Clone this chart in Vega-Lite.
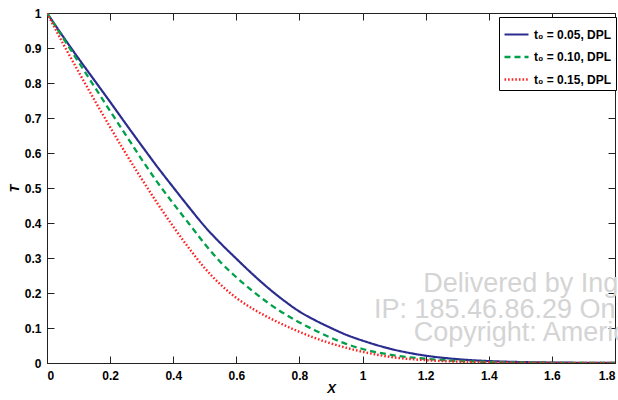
{
  "$schema": "https://vega.github.io/schema/vega-lite/v6.json",
  "width": 568,
  "height": 350,
  "autosize": "none",
  "padding": {"left": 47, "top": 13, "right": 3, "bottom": 37},
  "background": "white",
  "datasets": {
    "curves": [
      {"x": 0, "T": 1.0, "s": "t₀ = 0.05, DPL"},
      {"x": 0.05, "T": 0.934, "s": "t₀ = 0.05, DPL"},
      {"x": 0.1, "T": 0.870, "s": "t₀ = 0.05, DPL"},
      {"x": 0.15, "T": 0.808, "s": "t₀ = 0.05, DPL"},
      {"x": 0.2, "T": 0.746, "s": "t₀ = 0.05, DPL"},
      {"x": 0.25, "T": 0.683, "s": "t₀ = 0.05, DPL"},
      {"x": 0.3, "T": 0.621, "s": "t₀ = 0.05, DPL"},
      {"x": 0.35, "T": 0.560, "s": "t₀ = 0.05, DPL"},
      {"x": 0.4, "T": 0.502, "s": "t₀ = 0.05, DPL"},
      {"x": 0.45, "T": 0.445, "s": "t₀ = 0.05, DPL"},
      {"x": 0.5, "T": 0.390, "s": "t₀ = 0.05, DPL"},
      {"x": 0.55, "T": 0.342, "s": "t₀ = 0.05, DPL"},
      {"x": 0.6, "T": 0.298, "s": "t₀ = 0.05, DPL"},
      {"x": 0.65, "T": 0.255, "s": "t₀ = 0.05, DPL"},
      {"x": 0.7, "T": 0.215, "s": "t₀ = 0.05, DPL"},
      {"x": 0.75, "T": 0.179, "s": "t₀ = 0.05, DPL"},
      {"x": 0.8, "T": 0.147, "s": "t₀ = 0.05, DPL"},
      {"x": 0.85, "T": 0.122, "s": "t₀ = 0.05, DPL"},
      {"x": 0.9, "T": 0.100, "s": "t₀ = 0.05, DPL"},
      {"x": 0.95, "T": 0.080, "s": "t₀ = 0.05, DPL"},
      {"x": 1.0, "T": 0.064, "s": "t₀ = 0.05, DPL"},
      {"x": 1.1, "T": 0.038, "s": "t₀ = 0.05, DPL"},
      {"x": 1.2, "T": 0.021, "s": "t₀ = 0.05, DPL"},
      {"x": 1.3, "T": 0.011, "s": "t₀ = 0.05, DPL"},
      {"x": 1.4, "T": 0.0055, "s": "t₀ = 0.05, DPL"},
      {"x": 1.5, "T": 0.0027, "s": "t₀ = 0.05, DPL"},
      {"x": 1.6, "T": 0.0013, "s": "t₀ = 0.05, DPL"},
      {"x": 1.7, "T": 0.0006, "s": "t₀ = 0.05, DPL"},
      {"x": 1.8, "T": 0.0003, "s": "t₀ = 0.05, DPL"},
      {"x": 0, "T": 1.0, "s": "t₀ = 0.10, DPL"},
      {"x": 0.05, "T": 0.930, "s": "t₀ = 0.10, DPL"},
      {"x": 0.1, "T": 0.860, "s": "t₀ = 0.10, DPL"},
      {"x": 0.15, "T": 0.790, "s": "t₀ = 0.10, DPL"},
      {"x": 0.2, "T": 0.720, "s": "t₀ = 0.10, DPL"},
      {"x": 0.25, "T": 0.651, "s": "t₀ = 0.10, DPL"},
      {"x": 0.3, "T": 0.582, "s": "t₀ = 0.10, DPL"},
      {"x": 0.35, "T": 0.516, "s": "t₀ = 0.10, DPL"},
      {"x": 0.4, "T": 0.456, "s": "t₀ = 0.10, DPL"},
      {"x": 0.45, "T": 0.398, "s": "t₀ = 0.10, DPL"},
      {"x": 0.5, "T": 0.340, "s": "t₀ = 0.10, DPL"},
      {"x": 0.55, "T": 0.288, "s": "t₀ = 0.10, DPL"},
      {"x": 0.6, "T": 0.245, "s": "t₀ = 0.10, DPL"},
      {"x": 0.65, "T": 0.207, "s": "t₀ = 0.10, DPL"},
      {"x": 0.7, "T": 0.172, "s": "t₀ = 0.10, DPL"},
      {"x": 0.75, "T": 0.142, "s": "t₀ = 0.10, DPL"},
      {"x": 0.8, "T": 0.116, "s": "t₀ = 0.10, DPL"},
      {"x": 0.85, "T": 0.093, "s": "t₀ = 0.10, DPL"},
      {"x": 0.9, "T": 0.072, "s": "t₀ = 0.10, DPL"},
      {"x": 0.95, "T": 0.054, "s": "t₀ = 0.10, DPL"},
      {"x": 1.0, "T": 0.040, "s": "t₀ = 0.10, DPL"},
      {"x": 1.1, "T": 0.022, "s": "t₀ = 0.10, DPL"},
      {"x": 1.2, "T": 0.012, "s": "t₀ = 0.10, DPL"},
      {"x": 1.3, "T": 0.006, "s": "t₀ = 0.10, DPL"},
      {"x": 1.4, "T": 0.003, "s": "t₀ = 0.10, DPL"},
      {"x": 1.5, "T": 0.0014, "s": "t₀ = 0.10, DPL"},
      {"x": 1.6, "T": 0.0006, "s": "t₀ = 0.10, DPL"},
      {"x": 1.7, "T": 0.0003, "s": "t₀ = 0.10, DPL"},
      {"x": 1.8, "T": 0.0001, "s": "t₀ = 0.10, DPL"},
      {"x": 0, "T": 1.0, "s": "t₀ = 0.15, DPL"},
      {"x": 0.05, "T": 0.914, "s": "t₀ = 0.15, DPL"},
      {"x": 0.1, "T": 0.832, "s": "t₀ = 0.15, DPL"},
      {"x": 0.15, "T": 0.752, "s": "t₀ = 0.15, DPL"},
      {"x": 0.2, "T": 0.674, "s": "t₀ = 0.15, DPL"},
      {"x": 0.25, "T": 0.598, "s": "t₀ = 0.15, DPL"},
      {"x": 0.3, "T": 0.526, "s": "t₀ = 0.15, DPL"},
      {"x": 0.35, "T": 0.456, "s": "t₀ = 0.15, DPL"},
      {"x": 0.4, "T": 0.390, "s": "t₀ = 0.15, DPL"},
      {"x": 0.45, "T": 0.328, "s": "t₀ = 0.15, DPL"},
      {"x": 0.5, "T": 0.271, "s": "t₀ = 0.15, DPL"},
      {"x": 0.55, "T": 0.224, "s": "t₀ = 0.15, DPL"},
      {"x": 0.6, "T": 0.186, "s": "t₀ = 0.15, DPL"},
      {"x": 0.65, "T": 0.156, "s": "t₀ = 0.15, DPL"},
      {"x": 0.7, "T": 0.131, "s": "t₀ = 0.15, DPL"},
      {"x": 0.75, "T": 0.109, "s": "t₀ = 0.15, DPL"},
      {"x": 0.8, "T": 0.089, "s": "t₀ = 0.15, DPL"},
      {"x": 0.85, "T": 0.071, "s": "t₀ = 0.15, DPL"},
      {"x": 0.9, "T": 0.056, "s": "t₀ = 0.15, DPL"},
      {"x": 0.95, "T": 0.043, "s": "t₀ = 0.15, DPL"},
      {"x": 1.0, "T": 0.032, "s": "t₀ = 0.15, DPL"},
      {"x": 1.1, "T": 0.016, "s": "t₀ = 0.15, DPL"},
      {"x": 1.2, "T": 0.008, "s": "t₀ = 0.15, DPL"},
      {"x": 1.3, "T": 0.004, "s": "t₀ = 0.15, DPL"},
      {"x": 1.4, "T": 0.002, "s": "t₀ = 0.15, DPL"},
      {"x": 1.5, "T": 0.001, "s": "t₀ = 0.15, DPL"},
      {"x": 1.6, "T": 0.0005, "s": "t₀ = 0.15, DPL"},
      {"x": 1.7, "T": 0.0002, "s": "t₀ = 0.15, DPL"},
      {"x": 1.8, "T": 0.0001, "s": "t₀ = 0.15, DPL"}
    ],
    "watermark": [
      {"x": 1.192, "T": 0.202, "text": "Delivered by Ingenta to"},
      {"x": 1.036, "T": 0.128, "text": "IP: 185.46.86.29 On:"},
      {"x": 1.162, "T": 0.062, "text": "Copyright: American"}
    ]
  },
  "layer": [
    {
      "data": {"name": "curves"},
      "mark": {"type": "line", "interpolate": "monotone", "clip": true},
      "encoding": {
        "x": {
          "field": "x", "type": "quantitative",
          "scale": {"domain": [0, 1.8], "nice": false, "zero": false},
          "axis": {
            "orient": "bottom", "title": "X",
            "values": [0, 0.2, 0.4, 0.6, 0.8, 1, 1.2, 1.4, 1.6, 1.8],
            "format": "~g", "tickSize": -7, "labelPadding": 14,
            "titlePadding": 1
          }
        },
        "y": {
          "field": "T", "type": "quantitative",
          "scale": {"domain": [0, 1], "nice": false},
          "axis": {
            "orient": "left", "title": "T",
            "values": [0, 0.1, 0.2, 0.3, 0.4, 0.5, 0.6, 0.7, 0.8, 0.9, 1],
            "format": "~g", "tickSize": -7, "labelPadding": 13,
            "titlePadding": 3
          }
        },
        "color": {
          "field": "s", "type": "nominal",
          "scale": {
            "domain": ["t₀ = 0.05, DPL", "t₀ = 0.10, DPL", "t₀ = 0.15, DPL"],
            "range": ["#2b2d8e", "#00a04a", "#ff2222"]
          },
          "legend": {"orient": "none", "legendX": 452, "legendY": 4, "title": null}
        },
        "strokeDash": {
          "field": "s", "type": "nominal",
          "scale": {
            "domain": ["t₀ = 0.05, DPL", "t₀ = 0.10, DPL", "t₀ = 0.15, DPL"],
            "range": [[1, 0], [6, 4], [1.6, 2]]
          },
          "legend": {"orient": "none", "legendX": 452, "legendY": 4, "title": null}
        },
        "strokeWidth": {
          "field": "s", "type": "nominal",
          "scale": {
            "domain": ["t₀ = 0.05, DPL", "t₀ = 0.10, DPL", "t₀ = 0.15, DPL"],
            "range": [2.2, 2.4, 1.7]
          },
          "legend": null
        }
      }
    },
    {
      "data": {"name": "watermark"},
      "mark": {"type": "text", "align": "left", "baseline": "alphabetic", "fontSize": 27, "color": "#d4d4d4", "font": "Liberation Sans"},
      "encoding": {
        "x": {
          "field": "x", "type": "quantitative",
          "axis": {
            "orient": "top", "title": null, "labels": false, "domain": false,
            "values": [0, 0.2, 0.4, 0.6, 0.8, 1, 1.2, 1.4, 1.6, 1.8],
            "tickSize": -7
          }
        },
        "y": {
          "field": "T", "type": "quantitative",
          "axis": {
            "orient": "right", "title": null, "labels": false, "domain": false,
            "values": [0, 0.1, 0.2, 0.3, 0.4, 0.5, 0.6, 0.7, 0.8, 0.9, 1],
            "tickSize": -7
          }
        },
        "text": {"field": "text", "type": "nominal"}
      }
    }
  ],
  "resolve": {"axis": {"x": "independent", "y": "independent"}},
  "config": {
    "font": "Liberation Sans",
    "view": {"stroke": "#222222", "strokeWidth": 1},
    "axis": {
      "grid": false,
      "domainColor": "#222222",
      "domainWidth": 1,
      "tickColor": "#222222",
      "tickWidth": 1,
      "labelFont": "Liberation Sans Narrow, Liberation Sans",
      "labelFontSize": 12,
      "labelFontWeight": "bold",
      "labelColor": "#000000",
      "titleFont": "Liberation Sans",
      "titleFontSize": 13,
      "titleFontWeight": "bold",
      "titleFontStyle": "italic",
      "titleColor": "#000000"
    },
    "legend": {
      "symbolType": "stroke",
      "symbolSize": 576,
      "symbolStrokeWidth": 2.2,
      "labelFont": "Liberation Sans Narrow, Liberation Sans",
      "labelFontSize": 12,
      "labelFontWeight": "bold",
      "labelColor": "#000000",
      "labelOffset": 4,
      "rowPadding": 2.5,
      "padding": 4,
      "fillColor": "#ffffff",
      "strokeColor": "#000000"
    }
  }
}
